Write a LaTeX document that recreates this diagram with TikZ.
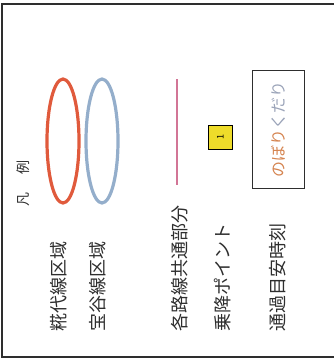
\documentclass[tikz,border=0pt]{standalone}
\usepackage{fontspec}
\setmainfont{Noto Sans CJK JP}
\usetikzlibrary{shapes.geometric}
\definecolor{areared}{HTML}{E05A3C}
\definecolor{areablue}{HTML}{94AECB}
\definecolor{sharedline}{HTML}{D27596}
\definecolor{stopyellow}{HTML}{EEDC2A}
\definecolor{upcol}{HTML}{D58450}
\definecolor{downcol}{HTML}{9AA3B8}
\definecolor{inkgray}{HTML}{2E2E2E}
\begin{document}
\begin{tikzpicture}[x=1pt,y=-1pt]
    \tikzstyle{legend}=[rotate=90,anchor=west,inner sep=0pt,text=inkgray,font=\fontsize{18}{18}\selectfont]
    \tikzstyle{area}=[ellipse,draw,line width=3.2pt,minimum width=32pt,minimum height=124pt,inner sep=0pt]
    \useasboundingbox (0,0) rectangle (334,360);
    \draw[line width=1.6pt,inkgray] (334,4) -- (2,4) -- (2,357) -- (334,357);

    \node[rotate=90,inner sep=0pt,text=inkgray,font=\fontsize{14}{14}\selectfont] (title) at (23,183) {凡\hspace{18pt}例};

    \foreach \num/\x/\col/\txt in {1/63/areared/糀代線区域, 2/102/areablue/宝谷線区域}{
        \node[area,draw=\col] (area-\num) at (\x,141) {};
        \node[legend] (label-\num) at (\x-4,332) {\txt};
    }

    \coordinate (shared-top) at (177,79);
    \coordinate (shared-bot) at (177,185);
    \draw[sharedline,line width=1.3pt] (shared-top) -- (shared-bot);
    \node[legend] (label-3) at (180,332) {各路線共通部分};

    \node[draw=black,fill=stopyellow,line width=1pt,minimum size=24pt,inner sep=0pt,rotate=90,font=\fontsize{9}{9}\selectfont] (stop) at (220.5,137) {1};
    \node[legend] (label-4) at (223,332) {乗降ポイント};

    \node[draw=inkgray,line width=1pt,minimum width=52pt,minimum height=118pt] (timebox) at (278.5,129) {};
    \node[rotate=90,inner sep=0pt,font=\fontsize{16}{16}\selectfont] (updown) at (timebox.center) {\textcolor{upcol}{のぼり}\textcolor{downcol}{くだり}};
    \node[legend] (label-5) at (278,332) {通過目安時刻};
\end{tikzpicture}
\end{document}
